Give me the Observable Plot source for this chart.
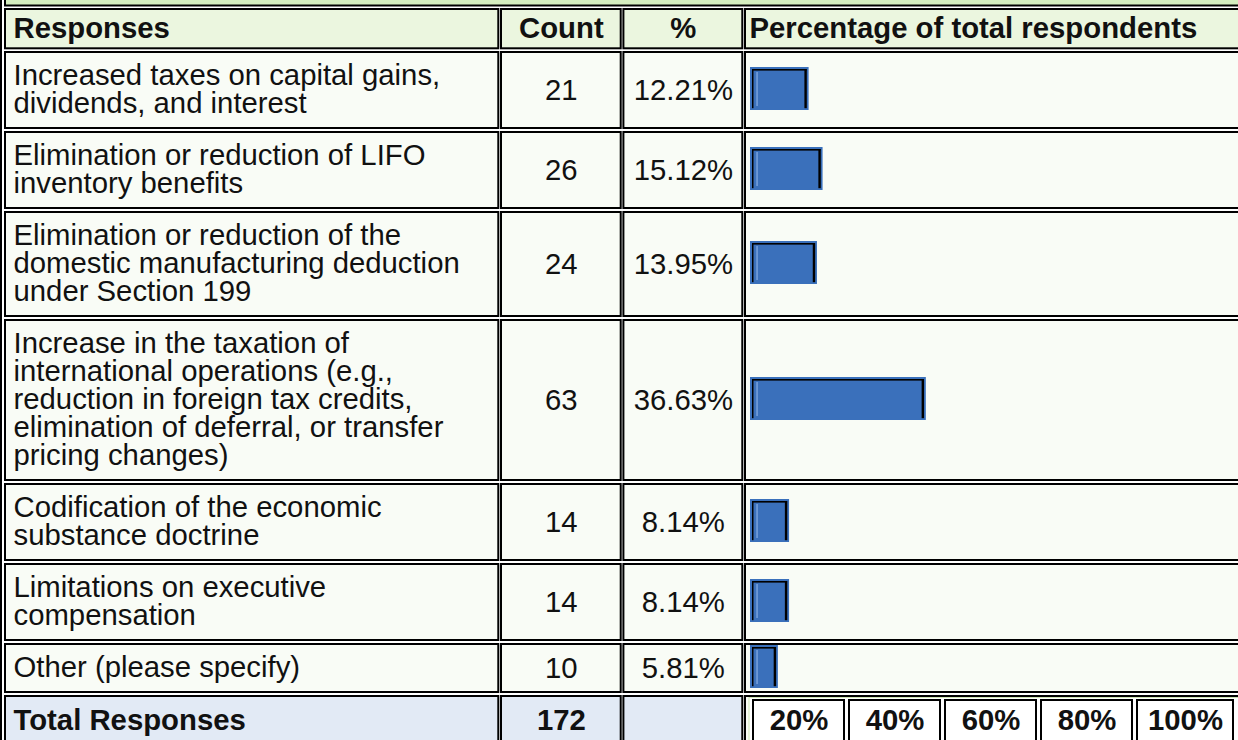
<!DOCTYPE html>
<html>
<head>
<meta charset="utf-8">
<script src="https://cdn.jsdelivr.net/npm/d3@7"></script>
<script src="https://cdn.jsdelivr.net/npm/@observablehq/plot@0.6"></script>
<style>
html,body{margin:0;padding:0;background:#fff;overflow:hidden}
#chart svg{display:block}
</style>
</head>
<body>
<div id="chart"></div>
<script>
// ---------- data ----------
const headers = ["Responses", "Count", "%", "Percentage of total respondents"];
const responses = [
  "Increased taxes on capital gains,\ndividends, and interest",
  "Elimination or reduction of LIFO\ninventory benefits",
  "Elimination or reduction of the\ndomestic manufacturing deduction\nunder Section 199",
  "Increase in the taxation of\ninternational operations (e.g.,\nreduction in foreign tax credits,\nelimination of deferral, or transfer\npricing changes)",
  "Codification of the economic\nsubstance doctrine",
  "Limitations on executive\ncompensation",
  "Other (please specify)"
];
const counts = [21, 26, 24, 63, 14, 14, 10];
const percents = [12.21, 15.12, 13.95, 36.63, 8.14, 8.14, 5.81];
const totalLabel = "Total Responses";
const totalCount = 172;
const scaleTicks = [20, 40, 60, 80, 100];

// ---------- layout ----------
const W = 1238, H = 740;
const FS = 29.3, LH = 28, FS_LABEL = 29.3;
const FONT = "Liberation Sans, Arial, Helvetica, sans-serif";
const INK = "#111";
const cols = [[4, 499.3], [500, 621.7], [622.4, 743.3], [744, 1262]];
const colMid = cols.map(c => (c[0] + c[1]) / 2);
const BG_TITLE = "#d5eebf", BG_HEAD = "#ebf6df", BG_ROW = "#f9fcf6", BG_TOTAL = "#e2eaf5";

const headTop = 8, headBot = 49.3;
let rowTop = 51;
const rows = responses.map((label, i) => {
  const n = label.split("\n").length;
  const h = n * LH + 22;
  const r = {label, count: counts[i], pct: percents[i], pctText: percents[i].toFixed(2) + "%", y1: rowTop, y2: rowTop + h, ym: rowTop + h / 2};
  rowTop += h + 2;
  return r;
});
const totalTop = rowTop;
const totalMid = totalTop + 25;

// percentage scale for bars
const pctX = Plot.scale({x: {domain: [0, 100], range: [750, 1230]}});
const BAR_H = 43;
const bars = rows.map(r => ({
  x0: pctX.apply(0), x1: pctX.apply(r.pct), t: r.ym - BAR_H / 2 - 1.5, b: r.ym + BAR_H / 2 - 1.5
}));

// cells
const cells = [];
cells.push({x1: 4, x2: 1262, y1: -30, y2: 6.5, fill: BG_TITLE});
cols.forEach(c => cells.push({x1: c[0], x2: c[1], y1: headTop, y2: headBot, fill: BG_HEAD}));
rows.forEach(r => cols.forEach(c => cells.push({x1: c[0], x2: c[1], y1: r.y1, y2: r.y2, fill: BG_ROW})));
cols.forEach((c, j) => cells.push({x1: c[0], x2: c[1], y1: totalTop, y2: 780, fill: j < 3 ? BG_TOTAL : BG_ROW}));

const scaleBoxes = scaleTicks.map(t => ({
  t, label: t + "%",
  x1: pctX.apply(t - 20) + 2, x2: pctX.apply(t) - 1 + (t === 100 ? 5 : 0)
}));

const chart = Plot.plot({
  width: W, height: H, margin: 0,
  x: {domain: [0, W], range: [0, W], axis: null},
  y: {domain: [0, H], range: [0, H], axis: null},
  style: {background: "#ffffff", fontFamily: FONT},
  marks: [
    // outer table border
    Plot.rect([0], {x1: () => 0, x2: () => 2, y1: () => -30, y2: () => 780, fill: "#000"}),
    // cells
    Plot.rect(cells, {x1: d => d.x1 + 1, x2: d => d.x2 - 1, y1: d => d.y1 + 1, y2: d => d.y2 - 1, fill: "fill", stroke: "#000", strokeWidth: 2}),
    // header texts
    Plot.text([headers[0]], {x: () => 13, y: () => 28.5, text: d => d, textAnchor: "start", fontSize: FS, fontWeight: "bold", fill: INK, fontFamily: FONT}),
    Plot.text([headers[1], headers[2]], {x: (d, i) => colMid[i + 1], y: () => 28.5, text: d => d, textAnchor: "middle", fontSize: FS, fontWeight: "bold", fill: INK, fontFamily: FONT}),
    Plot.text([headers[3]], {x: () => 749, y: () => 28.5, text: d => d, textAnchor: "start", fontSize: FS, fontWeight: "bold", fill: INK, fontFamily: FONT}),
    // row labels
    Plot.text(rows, {x: () => 13, y: "ym", text: "label", textAnchor: "start", lineAnchor: "middle", lineHeight: LH / FS_LABEL, fontSize: FS_LABEL, fill: INK, fontFamily: FONT}),
    Plot.text(rows, {x: () => colMid[1], y: "ym", text: d => String(d.count), textAnchor: "middle", fontSize: FS, fill: INK, fontFamily: FONT}),
    Plot.text(rows, {x: () => colMid[2], y: "ym", text: "pctText", textAnchor: "middle", fontSize: FS, fill: INK, fontFamily: FONT}),
    // bars
    Plot.rect(bars, {x1: "x0", x2: "x1", y1: "t", y2: "b", fill: "#3a70bb"}),
    Plot.rect(bars, {x1: d => d.x0 + 2, x2: d => d.x1 - 2, y1: d => d.t + 2, y2: d => d.t + 3.6, fill: "#000"}),
    Plot.rect(bars, {x1: d => d.x0 + 2, x2: d => d.x0 + 3.5, y1: d => d.t + 2, y2: d => d.b - 1.8, fill: "#000"}),
    Plot.rect(bars, {x1: d => d.x1 - 4.2, x2: d => d.x1 - 1.8, y1: d => d.t + 2, y2: d => d.b - 1.8, fill: "#000"}),
    Plot.rect(bars, {x1: d => d.x0 + 6.5, x2: d => d.x0 + 7.6, y1: d => d.t + 5, y2: d => d.b - 4, fill: "#8fb3e6"}),
    // total row
    Plot.text([totalLabel], {x: () => 13, y: () => totalMid, text: d => d, textAnchor: "start", fontSize: FS, fontWeight: "bold", fill: INK, fontFamily: FONT}),
    Plot.text([totalCount], {x: () => colMid[1], y: () => totalMid, text: d => String(d), textAnchor: "middle", fontSize: FS, fontWeight: "bold", fill: INK, fontFamily: FONT}),
    Plot.rect([0], {x1: () => pctX.apply(0) - 1, x2: () => 1240, y1: () => totalTop + 2.5, y2: () => 780, fill: "#ffffff", stroke: "#cfe5b5", strokeWidth: 1}),
    Plot.rect(scaleBoxes, {x1: d => d.x1 + 1, x2: d => d.x2 - 1, y1: () => totalTop + 5, y2: () => 780, fill: "#ffffff", stroke: "#000", strokeWidth: 2}),
    Plot.text(scaleBoxes, {x: d => (d.x1 + d.x2) / 2, y: () => totalMid, text: "label", textAnchor: "middle", fontSize: FS, fontWeight: "bold", fill: INK, fontFamily: FONT})
  ]
});
document.getElementById("chart").appendChild(chart);
</script>
</body>
</html>
